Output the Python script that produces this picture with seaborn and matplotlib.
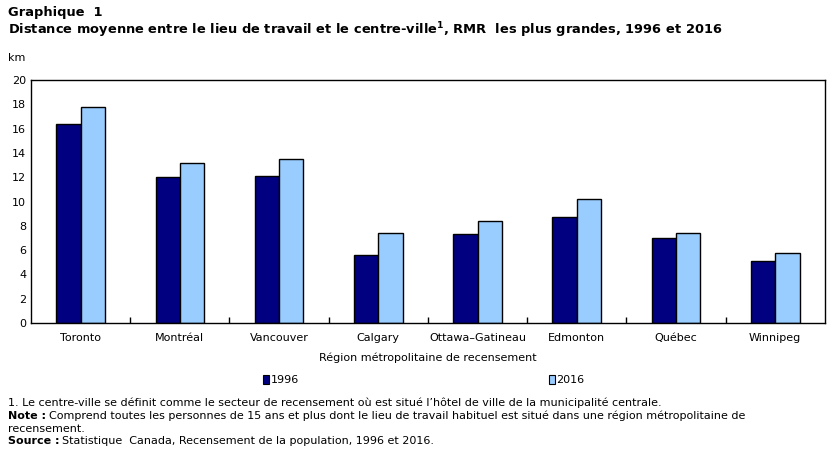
import pandas as pd
import seaborn as sns
import matplotlib.pyplot as plt
from matplotlib.patches import Patch

# Data (km)
regions = ["Toronto", "Montréal", "Vancouver", "Calgary", "Ottawa–Gatineau",
           "Edmonton", "Québec", "Winnipeg"]
dist_1996 = [16.4, 12.0, 12.1, 5.6, 7.3, 8.7, 7.0, 5.1]
dist_2016 = [17.8, 13.2, 13.5, 7.4, 8.4, 10.2, 7.4, 5.8]
years = ["1996", "2016"]
colors = ["#000080", "#99CCFF"]

df = pd.DataFrame({
    "region": regions * 2,
    "year": [years[0]] * len(regions) + [years[1]] * len(regions),
    "km": dist_1996 + dist_2016,
})

sns.set_style("white")
plt.rcParams["font.family"] = ["DejaVu Sans"]
plt.rcParams["font.size"] = 8
plt.rcParams["text.color"] = "black"

fig = plt.figure(figsize=(8.34, 4.54), dpi=100)
ax = fig.add_axes([0.0372, 0.2885, 0.9518, 0.5353])

sns.barplot(data=df, x="region", y="km", hue="year", palette=colors,
            saturation=1, edgecolor="black", linewidth=1, width=0.49, gap=0,
            ax=ax, legend=False)

ax.set_ylim(0, 20)
ax.set_xlim(-0.5, len(regions) - 0.5)
ax.set_yticks(range(0, 21, 2))
ax.set_xlabel("Région métropolitaine de recensement", fontsize=8,
              labelpad=7, color="black")
ax.set_ylabel("")
for s in ax.spines.values():
    s.set_visible(True)
    s.set_color("black")
    s.set_linewidth(1)
ax.tick_params(axis="both", length=0, labelsize=8, colors="black")
ax.tick_params(axis="x", pad=7)
# small inward ticks between the regions
ax.set_xticks([i + 0.5 for i in range(len(regions) - 1)], minor=True)
ax.xaxis.set_tick_params(which="minor", bottom=True, direction="in",
                         length=4, width=1, color="black")

fig.text(0.009, 0.972, "Graphique  1", fontsize=9.4, fontweight="bold", va="center")
fig.text(0.009, 0.933,
         "Distance moyenne entre le lieu de travail et le centre-ville$^{\\mathbf{1}}$, RMR  les plus grandes, 1996 et 2016",
         fontsize=9.4, fontweight="bold", va="center")
fig.text(0.009, 0.872, "km", fontsize=8, va="center")

handles = [Patch(facecolor=c, edgecolor="black", linewidth=0.8) for c in colors]
fig.legend(handles, years, loc="center", bbox_to_anchor=(0.508, 0.163), ncol=2,
           frameon=False, handlelength=0.6, handleheight=0.9, handletextpad=0.1,
           columnspacing=22.5, fontsize=8)

notes_y = [0.112, 0.084, 0.056, 0.028]
fig.text(0.009, notes_y[0], "1. Le centre-ville se définit comme le secteur de recensement où est situé l’hôtel de ville de la municipalité centrale.",
         va="center")
fig.text(0.009, notes_y[2], "recensement.", va="center")

# bold lead-in followed by regular text
renderer = fig.canvas.get_renderer()
for y, lead, rest in [
    (notes_y[1], "Note :", "Comprend toutes les personnes de 15 ans et plus dont le lieu de travail habituel est situé dans une région métropolitaine de"),
    (notes_y[3], "Source :", "Statistique  Canada, Recensement de la population, 1996 et 2016."),
]:
    t = fig.text(0.009, y, lead, fontweight="bold", va="center")
    bb = t.get_window_extent(renderer)
    fig.text(bb.x1 / fig.bbox.width + 0.004, y, rest, va="center")

fig.savefig("out.png", dpi=100)
